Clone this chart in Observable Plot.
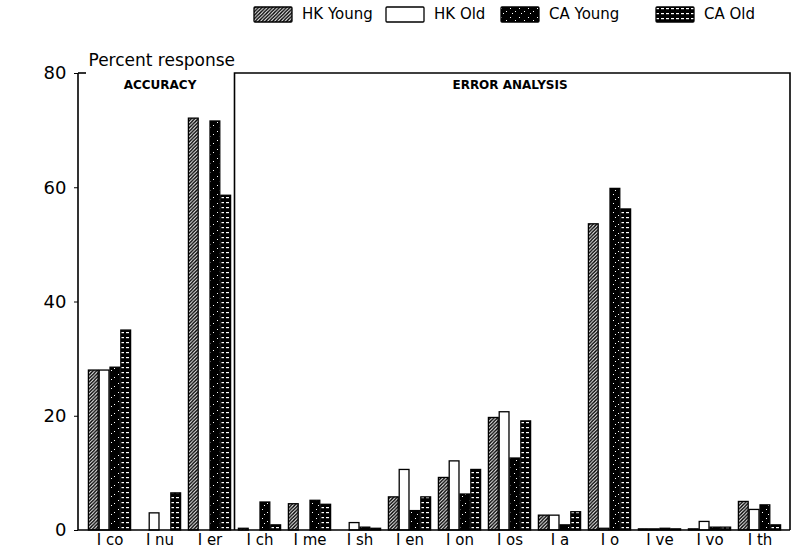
<!DOCTYPE html>
<html><head><meta charset="utf-8">
<script src="https://cdn.jsdelivr.net/npm/d3@7"></script>
<script src="https://cdn.jsdelivr.net/npm/@observablehq/plot@0.6"></script>
<style>
body{margin:0;background:#fff;font-family:"DejaVu Sans",sans-serif;color:#000;}
#wrap{position:relative;width:798px;height:552px;overflow:hidden;}
#legend{position:relative;height:30px;width:798px;}
.item{position:absolute;top:5px;height:18px;display:flex;align-items:center;font-size:15px;white-space:nowrap;}
.item svg{margin-right:9px;}
</style></head><body>
<svg width="0" height="0" style="position:absolute">
  <defs>
    <pattern id="pHKY" patternUnits="userSpaceOnUse" width="3.5" height="3.5">
      <rect width="3.5" height="3.5" fill="#fff"/>
      <path d="M-1,1 L1,-1 M0,3.5 L3.5,0 M2.5,4.5 L4.5,2.5" stroke="#000" stroke-width="1.4"/>
    </pattern>
    <pattern id="pHKO" patternUnits="userSpaceOnUse" width="4" height="4">
      <rect width="4" height="4" fill="#fff"/>
    </pattern>
    <pattern id="pCAY" patternUnits="userSpaceOnUse" width="9" height="9">
      <rect width="9" height="9" fill="#000"/>
      <rect x="1" y="2" width="1" height="1" fill="#fff"/>
      <rect x="6" y="5" width="1" height="1" fill="#fff"/>
      <rect x="3" y="7" width="1" height="1" fill="#fff"/>
    </pattern>
    <pattern id="pCAO" patternUnits="userSpaceOnUse" width="10" height="5">
      <rect width="10" height="5" fill="#000"/>
      <rect x="1" y="2" width="3" height="1.2" fill="#fff"/>
      <rect x="6" y="2" width="3" height="1.2" fill="#fff"/>
    </pattern>
  </defs>
</svg>
<div id="wrap"><div id="legend"></div><div id="chart"></div></div>
<script>
const categories = ["I co","I nu","I er","I ch","I me","I sh","I en","I on","I os","I a","I o","I ve","I vo","I th"];
const series = ["HK Young","HK Old","CA Young","CA Old"];
const hkYoung = [28, 0, 72.1, 0.3, 4.6, 0, 5.8, 9.2, 19.7, 2.6, 53.6, 0.2, 0.2, 5.0];
const hkOld   = [28, 3.0, null, 0, 0, 1.3, 10.6, 12.1, 20.7, 2.6, 0.3, 0.2, 1.5, 3.6];
const caYoung = [28.5, 0, 71.6, 4.9, 5.2, 0.5, 3.4, 6.3, 12.6, 0.9, 59.8, 0.3, 0.5, 4.4];
const caOld   = [35, 6.5, 58.6, 0.9, 4.5, 0.3, 5.8, 10.6, 19.1, 3.2, 56.2, 0.2, 0.5, 0.9];
const sectionLabels = ["ACCURACY", "ERROR ANALYSIS"];
const sectionAnchors = ["I nu", "I os"];
const errorStart = "I ch";
const yTicks = [0, 20, 40, 60, 80];
const yLabel = "Percent response";

const seriesValues = [hkYoung, hkOld, caYoung, caOld];
const fills = ["url(#pHKY)", "url(#pHKO)", "url(#pCAY)", "url(#pCAO)"];
const legendLeft = [253, 385, 500, 655];

// legend
const legend = d3.select("#legend");
series.forEach((s, j) => {
  const it = legend.append("div").attr("class", "item").style("left", legendLeft[j] + "px");
  const sw = it.append("svg").attr("width", 40).attr("height", 17);
  sw.append("rect").attr("x", 1).attr("y", 1).attr("width", 38).attr("height", 15)
    .attr("fill", fills[j]).attr("stroke", "#000").attr("stroke-width", 1.3).attr("rx", 1);
  it.append("span").text(s);
});

const rows = categories.flatMap((c, i) => series.map((s, j) => ({category: c, series: s, value: seriesValues[j][i]})))
  .filter(d => d.value != null);

const W = 798, H = 522, ML = 78, MR = 8, MT = 43, MB = 22;
const step = (W - ML - MR) / categories.length;
const bw = step * 0.85;

function decor(index, scales, values, dims) {
  const x = scales.x, y = scales.y;
  const st = x.step ? x.step() : step;
  const b = x.bandwidth ? x.bandwidth() : bw;
  const left = dims.marginLeft, right = dims.width - dims.marginRight;
  const top = y(80), bottom = y(0);
  const bx = x(errorStart) - (st - b) / 2;
  const g = d3.create("svg:g").attr("fill", "none").attr("stroke", "#000").attr("stroke-width", 1.6);
  g.append("path").attr("d", `M${left},${top}V${bottom}H${right}`);
  g.append("path").attr("d", `M${left},${top}H${left + 8}`);
  g.append("path").attr("d", `M${bx},${bottom}V${top}H${right}V${bottom}`);
  return g.node();
}

const marks = [];
series.forEach((s, j) => {
  marks.push(Plot.barY(rows.filter(d => d.series === s), {
    x: "category", y: "value", fill: fills[j], stroke: "#000", strokeWidth: 1.3,
    insetLeft: j * bw / 4 + 0.4, insetRight: (3 - j) * bw / 4 + 0.4
  }));
});
marks.push(decor);
marks.push(Plot.axisY({ticks: yTicks, tickSize: 4, tickPadding: 8, fontSize: 18, label: null}));
marks.push(Plot.axisX({tickSize: 0, tickPadding: 4, fontSize: 15, label: null}));
marks.push(Plot.text(sectionLabels.map((t, i) => ({t, c: sectionAnchors[i]})), {
  x: "c", y: () => 80, text: "t", dy: 12, fontSize: 12, fontWeight: "bold", style: "letter-spacing:0.5px"
}));
marks.push(Plot.text([yLabel], {frameAnchor: "top-left", dx: 10, dy: -20, fontSize: 17, textAnchor: "start", style: "letter-spacing:0.4px"}));

const chart = Plot.plot({
  width: W, height: H,
  marginLeft: ML, marginRight: MR, marginTop: MT, marginBottom: MB,
  style: {fontFamily: "DejaVu Sans, sans-serif", fontSize: "14px", background: "#fff", color: "#000", overflow: "visible"},
  x: {domain: categories, paddingInner: 0.15, paddingOuter: 0.075, label: null},
  y: {domain: [0, 80], label: null},
  marks
});
document.getElementById("chart").appendChild(chart);
</script>
</body></html>
